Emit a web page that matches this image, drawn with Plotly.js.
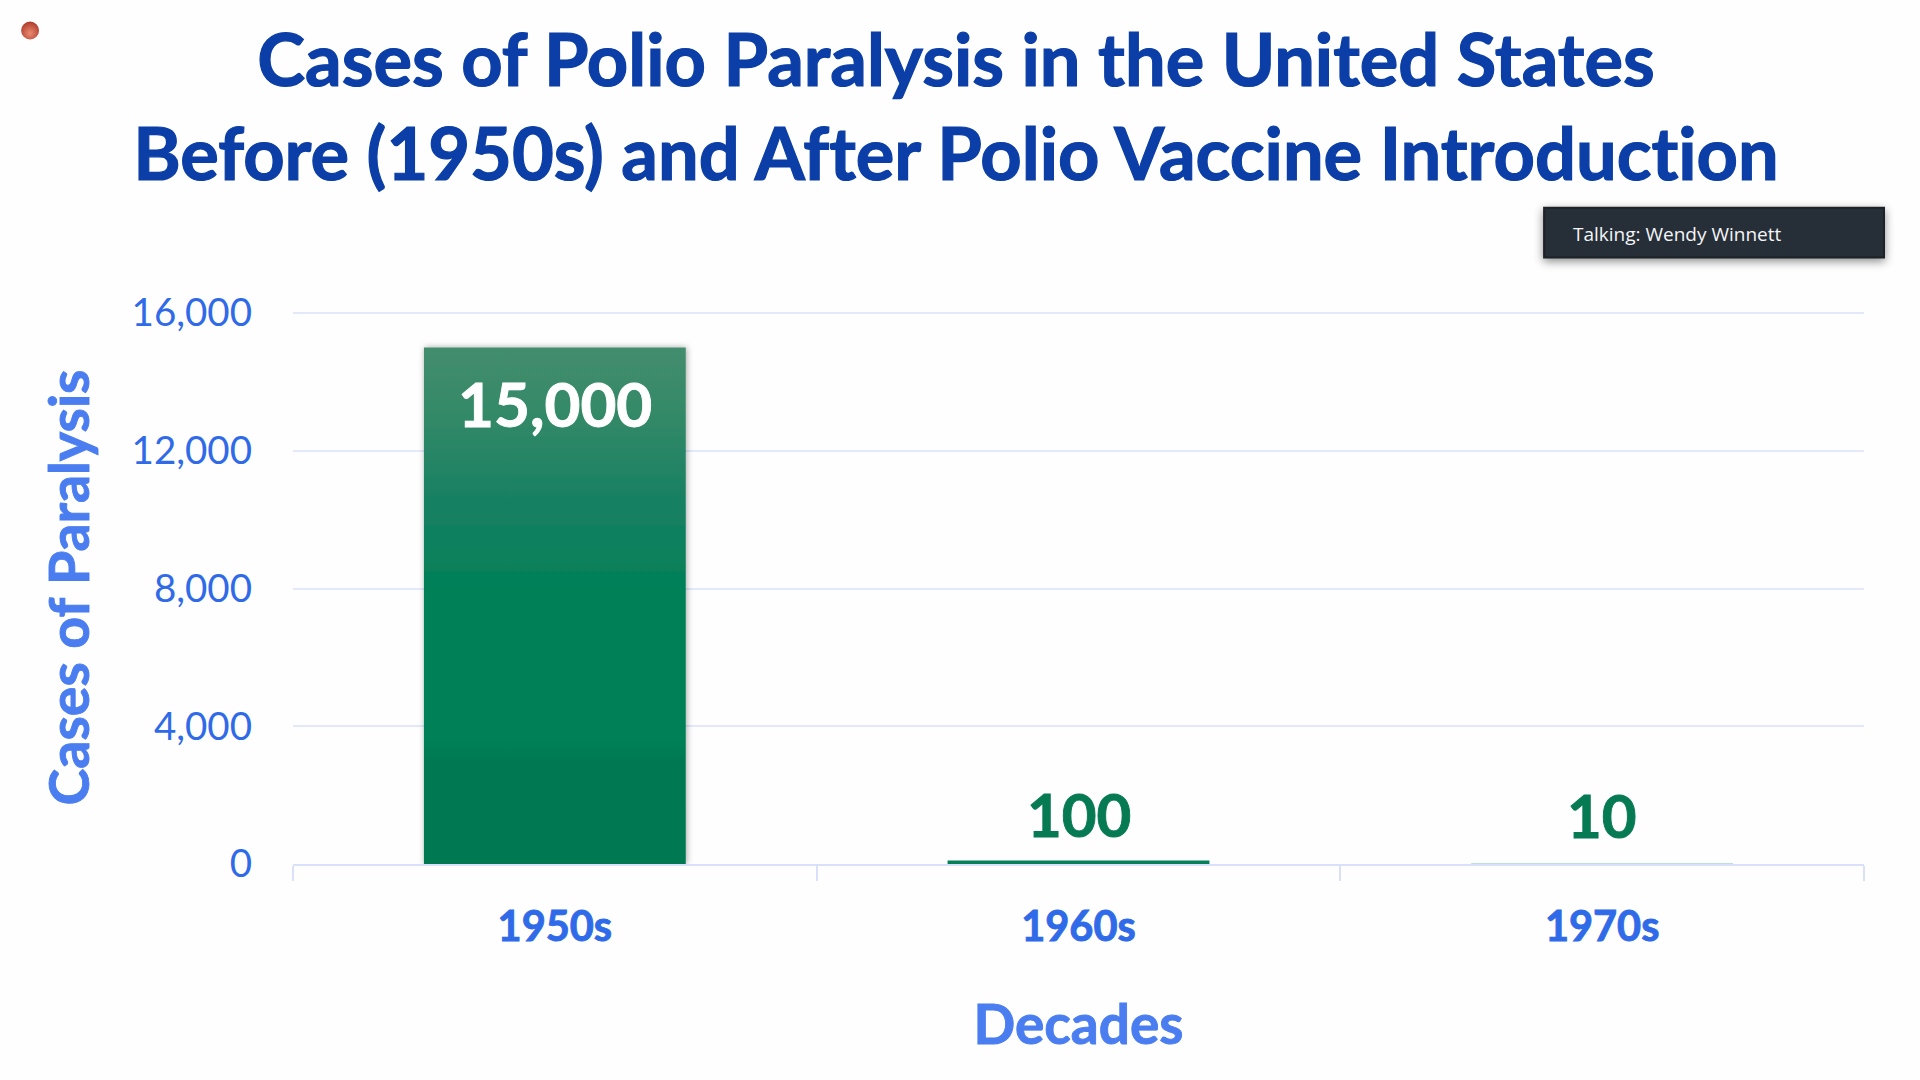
<!DOCTYPE html>
<html>
<head>
<meta charset="utf-8">
<script src="https://cdn.plot.ly/plotly-3.0.1.min.js"></script>
<style>html,body{margin:0;padding:0;background:#fefefe}#chart{width:1920px;height:1080px}
svg text{font-variant-ligatures:none !important;font-feature-settings:"liga" 0,"clig" 0 !important}</style>
</head>
<body>
<div id="chart"></div>
<script>
const decades = ['1950s', '1960s', '1970s'];
const cases = [15000, 100, 10];
const caseLabels = ['15,000', '100', '10'];
const yTicks = [0, 4000, 8000, 12000, 16000];
const yTickLabels = ['0', '4,000', '8,000', '12,000', '16,000'];

const titleText = 'Cases of Polio Paralysis in the United States<br>Before (1950s) and After Polio Vaccine Introduction';
const W = 1920, H = 1080;
const L = 292.5, R = 1864, T = 310.5, B = 864.5;
const font = 'Lato, Carlito, sans-serif';
const px = v => (v - L) / (R - L);
const py = v => (B - v) / (B - T);

const trace = {
  type: 'bar', x: decades, y: cases, width: 0.5,
  marker: {color: '#047f57', line: {width: 0}},
  hoverinfo: 'skip', cliponaxis: false
};

const annotations = decades.map((d, i) => ({
  x: d, y: cases[i], xref: 'x', yref: 'y', text: caseLabels[i], showarrow: false,
  yanchor: 'middle', xanchor: 'center', yshift: i === 0 ? -56 : (i === 1 ? 47 : 49),
  font: {family: font, size: i === 0 ? 62 : 60, color: i === 0 ? '#ffffff' : '#067a52', weight: 700}
}));
annotations.push({
  xref: 'paper', yref: 'paper', x: px(1571), y: py(233), xanchor: 'left', yanchor: 'middle',
  text: 'Talking: Wendy Winnett', showarrow: false,
  font: {family: '"Open Sans", sans-serif', size: 19, color: '#f4f5f6'}
});

const layout = {
  width: W, height: H,
  paper_bgcolor: '#fefefe', plot_bgcolor: '#fefefe',
  margin: {l: L, r: W - R, t: T, b: H - B, pad: 0},
  showlegend: false,
  bargap: 0.5,
  title: {
    text: titleText, x: 956 / W, xanchor: 'center', xref: 'container', yref: 'container',
    y: 1 - 86 / H, yanchor: 'middle',
    font: {family: font, size: 72.2, color: '#0b3ea6', weight: 700}
  },
  xaxis: {
    type: 'category', categoryorder: 'array', categoryarray: decades,
    tickson: 'boundaries', ticks: 'outside', ticklen: 15, tickwidth: 2, tickcolor: '#d9e1fa',
    showline: true, linecolor: '#d9e1fa', linewidth: 2, showgrid: false, zeroline: false,
    tickfont: {family: font, size: 41.5, color: '#2f6ae8', weight: 700},
    ticklabelstandoff: 25,
    title: {text: 'Decades', standoff: 57, font: {family: font, size: 55, color: '#4a7df0', weight: 700}},
    automargin: false
  },
  yaxis: {
    range: [0, 16058], tickvals: yTicks, ticktext: yTickLabels, ticks: '',
    showgrid: true, gridcolor: '#e3e8fb', gridwidth: 2, showline: false, zeroline: false,
    tickfont: {family: font, size: 38.5, color: '#2f6ae8'},
    ticklabelstandoff: 40,
    title: {text: 'Cases of Paralysis', standoff: 23.5, font: {family: font, size: 55.5, color: '#4a7df0', weight: 700}},
    automargin: false
  },
  shapes: [
    {type: 'rect', xref: 'paper', yref: 'paper', x0: px(1544), x1: px(1884), y0: py(257), y1: py(207),
      fillcolor: '#272e39', line: {color: '#1c2026', width: 2}},
    {type: 'circle', xref: 'paper', yref: 'paper', x0: px(20.5), x1: px(38.5), y0: py(38.5), y1: py(20.5),
      fillcolor: '#c2503c', line: {width: 0}}
  ],
  annotations: annotations
};

Plotly.newPlot('chart', [trace], layout, {displayModeBar: false, staticPlot: true}).then(() => {
  const svg = document.querySelector('#chart svg.main-svg');
  const NS = 'http://www.w3.org/2000/svg';
  const holder = document.createElementNS(NS, 'defs');
  holder.innerHTML =
    '<linearGradient id="barGrad" x1="0" y1="0" x2="0" y2="1">' +
    '<stop offset="0" stop-color="#438d6e"/><stop offset="0.14" stop-color="#328967"/>' +
    '<stop offset="0.3" stop-color="#178063"/><stop offset="0.47" stop-color="#028057"/>' +
    '<stop offset="0.76" stop-color="#028057"/><stop offset="0.8" stop-color="#047952"/>' +
    '<stop offset="1" stop-color="#037851"/></linearGradient>' +
    '<filter id="barShadow" x="-10%" y="-5%" width="120%" height="110%"><feDropShadow dx="1" dy="0" stdDeviation="3" flood-color="#000" flood-opacity="0.35"/></filter>' +
    '<filter id="boxShadow" x="-10%" y="-30%" width="120%" height="170%"><feDropShadow dx="0" dy="3" stdDeviation="5" flood-color="#000" flood-opacity="0.45"/></filter>' +
    '<radialGradient id="dotGrad" cx="0.5" cy="0.65" r="0.6"><stop offset="0" stop-color="#e98a70"/><stop offset="1" stop-color="#b3402f"/></radialGradient>';
  svg.appendChild(holder);
  const bar = document.querySelectorAll('#chart .barlayer .bars .point path')[0];
  if (bar) { bar.style.fill = 'url(#barGrad)'; bar.style.filter = 'url(#barShadow)'; }
  document.querySelectorAll('#chart .shapelayer path').forEach(p => {
    const f = p.style.fill || '';
    if (f.indexOf('39, 46') >= 0) p.style.filter = 'url(#boxShadow)';
    if (f.indexOf('194') >= 0) p.style.fill = 'url(#dotGrad)';
  });
  // thicken the bold text a little, as in the blurred original
  document.querySelectorAll('#chart .gtitle, #chart .xtitle, #chart .ytitle, #chart .xtick text, #chart .annotation-text-g text').forEach(t => {
    if (t.textContent.indexOf('Talking') >= 0) return;
    t.style.stroke = t.style.fill;
    t.style.strokeWidth = t.classList.contains('gtitle') ? '1.2px' : '0.9px';
  });
});
</script>
</body>
</html>
